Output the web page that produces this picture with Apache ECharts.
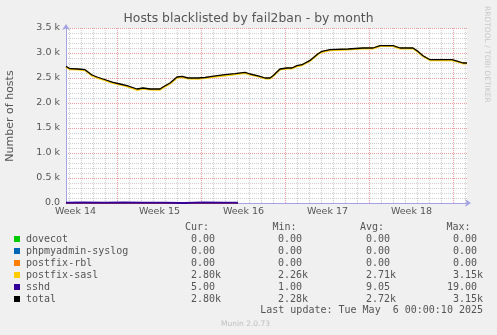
<!DOCTYPE html>
<html><head><meta charset="utf-8">
<script src="https://cdn.jsdelivr.net/npm/echarts@6/dist/echarts.min.js"></script>
<style>html,body{margin:0;padding:0;background:#f0f0f0;}#c{width:497px;height:335px;}</style>
</head><body><div id="c"></div>
<script>
// time in hours since Mon 31 Mar 2025 00:00 (start of Week 14)
const hours = [65,73,89,103,117,127,139,159,173,187,207,219,233,253,259,273,287,297,309,329,343,357,383,403,423,433,453,463,473,479,493,507,517,527,537,553,569,577,593,629,659,679,693,719,733,759,769,779,793,837,849,859,867];
const total = [2732,2686,2680,2666,2560,2520,2480,2412,2380,2346,2280,2300,2280,2280,2320,2400,2520,2532,2500,2500,2510,2532,2566,2586,2612,2580,2532,2500,2500,2546,2680,2700,2700,2746,2766,2852,2986,3032,3066,3080,3100,3100,3146,3146,3100,3100,3032,2946,2866,2866,2832,2800,2800];
const postfixSasl = [2720,2674,2670,2655,2548,2506,2468,2398,2368,2332,2262,2288,2268,2266,2306,2386,2506,2518,2488,2486,2498,2518,2552,2574,2598,2570,2522,2492,2490,2536,2670,2690,2690,2736,2756,2842,2976,3022,3056,3070,3090,3090,3140,3140,3090,3090,3022,2936,2856,2856,2822,2792,2795];
const sshdHours = [65,100,140,180,220,260,300,340,380,409];
const sshd = [5,8,6,9,6,3,1,8,7,7];
const zeroHours = [65,409];
const zeroVals = [0,0];

const weekLabels = ['Week 14','Week 15','Week 16','Week 17','Week 18'];
const weekMid = [84,252,420,588,756];
const weekStarts = [168,336,504,672,840];
const dayTicks = [72,96,120,144,192,216,240,264,288,312,360,384,408,432,456,480,528,552,576,600,624,648,696,720,744,768,792,816,864];
const yMin = 0, yMax = 3500, yStep = 500;

const legendNames = ['dovecot','phpmyadmin-syslog','postfix-rbl','postfix-sasl','sshd','total'];
const legendColors = ['#00cc00','#0066b3','#ff8000','#ffcc00','#330099','#000000'];
const curVals = [0,0,0,2800,5,2800];
const minVals = [0,0,0,2260,1,2280];
const avgVals = [0,0,0,2710,9.05,2720];
const maxVals = [0,0,0,3150,19,3150];

const titleText = 'Hosts blacklisted by fail2ban - by month';
const yName = 'Number of hosts';
const lastUpdate = 'Last update: Tue May  6 00:00:10 2025';
const footer = 'Munin 2.0.73';
const watermark = 'RRDTOOL / TOBI OETIKER';

function zip(a,b){return a.map((v,i)=>[v,b[i]]);}
function fmt(v){
  let num, suf;
  if (v >= 1000) { num = (v/1000).toFixed(2); suf = 'k'; } else { num = v.toFixed(2); suf = ''; }
  return num.padStart(6,' ') + suf;
}

const TXT = '#555555';
const MINOR = '#cfcfcf';
const MAJOR = '#e89c9c';
const mono = '10px "DejaVu Sans Mono"';
const graphics = [];
function txt(x,y,text,font,fill,align,rot){
  const e = {type:'text', x:x, y:y, silent:true, style:{text:text, font:font, fill:fill, align:align||'left', verticalAlign:'middle', textAlign:align||'left', textVerticalAlign:'middle'}};
  if (rot) e.rotation = rot;
  graphics.push(e);
}
txt(248.5, 19, titleText, '12.4px "DejaVu Sans"', TXT, 'center');
txt(10.5, 116, yName, '11px "DejaVu Sans"', TXT, 'center', Math.PI/2);
txt(487, 6, watermark, '7.5px "DejaVu Sans"', '#c8c8c8', 'left', -Math.PI/2);
const rowY0 = 239.3, rowStep = 11.95;
txt(185, 227.3, 'Cur:', mono, TXT);
txt(272.5, 227.3, 'Min:', mono, TXT);
txt(360, 227.3, 'Avg:', mono, TXT);
txt(446.5, 227.3, 'Max:', mono, TXT);
legendNames.forEach((n,i)=>{
  const y = rowY0 + i*rowStep;
  graphics.push({type:'rect', shape:{x:14, y:Math.round(y)-3, width:6, height:6}, style:{fill:legendColors[i]}, silent:true});
  txt(26, y, n, mono, TXT);
  txt(179, y, fmt(curVals[i]), mono, TXT);
  txt(266, y, fmt(minVals[i]), mono, TXT);
  txt(354, y, fmt(avgVals[i]), mono, TXT);
  txt(441, y, fmt(maxVals[i]), mono, TXT);
});
txt(483, 310.7, lastUpdate, mono, TXT, 'right');
txt(245.5, 324.5, footer, '7.5px "DejaVu Sans"', '#c0c0c0', 'center');

function vLine(v, color){
  return {type:'line', data:[[v,yMin],[v,yMax]], symbol:'none', silent:true, z:1,
          lineStyle:{color:color, width:1, type:[1,1]}, emphasis:{disabled:true}, tooltip:{show:false}};
}
const gridSeries = dayTicks.map(v=>vLine(v, MINOR)).concat(weekStarts.map(v=>vLine(v, MAJOR)));

const axisBlue = '#a4a4e4';
const chart = echarts.init(document.getElementById('c'), null, {renderer:'canvas'});
chart.setOption({
  animation:false,
  backgroundColor:'#f0f0f0',
  grid:{left:66, top:28, width:401, height:175, show:true, backgroundColor:'#ffffff', borderWidth:0},
  xAxis:{type:'value', min:65, max:867, position:'bottom',
     axisLine:{show:true, lineStyle:{color:axisBlue, width:1}, symbol:['none','arrow'], symbolSize:[6,6], symbolOffset:[0,4]},
     axisTick:{show:false},
     axisLabel:{show:true, customValues:weekMid, formatter:(v)=>weekLabels[weekMid.indexOf(v)], color:TXT, fontSize:9.5, fontFamily:'DejaVu Sans', margin:4},
     splitLine:{show:false}
  },
  yAxis:{type:'value', min:yMin, max:yMax, interval:yStep,
    axisLine:{show:true, lineStyle:{color:axisBlue, width:1}, symbol:['none','arrow'], symbolSize:[6,6], symbolOffset:[0,4]},
    axisTick:{show:false},
    axisLabel:{color:TXT, fontSize:9.5, fontFamily:'DejaVu Sans', margin:6, formatter:(v)=> v===0 ? '0.0' : (v/1000).toFixed(1)+' k'},
    splitLine:{show:true, lineStyle:{color:MAJOR, width:1, type:[1,1]}},
    minorTick:{show:false, splitNumber:5},
    minorSplitLine:{show:true, lineStyle:{color:MINOR, width:1, type:[1,1]}}
  },
  series: gridSeries.concat([
    {name:'dovecot', type:'line', symbol:'none', z:3, data:zip(zeroHours,zeroVals), lineStyle:{color:legendColors[0], width:2}},
    {name:'phpmyadmin-syslog', type:'line', symbol:'none', z:3, data:zip(zeroHours,zeroVals), lineStyle:{color:legendColors[1], width:2}},
    {name:'postfix-rbl', type:'line', symbol:'none', z:3, data:zip(zeroHours,zeroVals), lineStyle:{color:legendColors[2], width:2}},
    {name:'postfix-sasl', type:'line', symbol:'none', z:3, data:zip(hours,postfixSasl), lineStyle:{color:legendColors[3], width:2}},
    {name:'sshd', type:'line', symbol:'none', z:3, data:zip(sshdHours,sshd), lineStyle:{color:legendColors[4], width:2}},
    {name:'total', type:'line', symbol:'none', z:3, data:zip(hours,total), lineStyle:{color:legendColors[5], width:1.3}}
  ]),
  graphic:graphics
});
</script></body></html>
